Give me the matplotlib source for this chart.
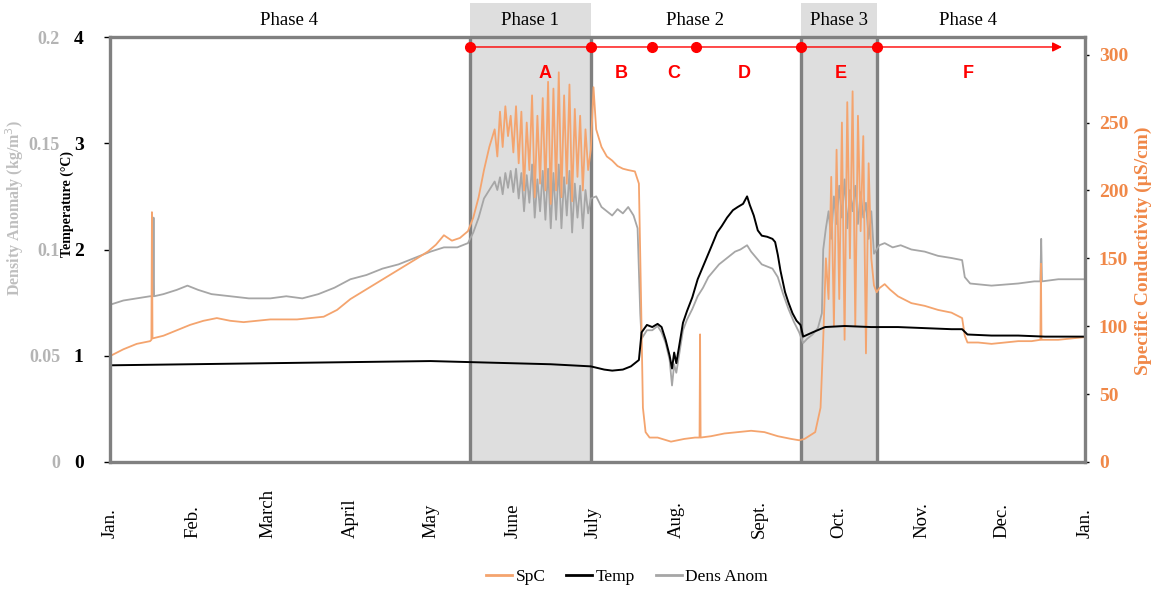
import matplotlib.pyplot as plt
import matplotlib.transforms as mtransforms
from matplotlib.patches import Rectangle
from matplotlib.lines import Line2D

plt.rcParams['font.family'] = ['Liberation Serif', 'DejaVu Serif']

# --- data (day of year) ---
month_days = [0, 31, 59, 90, 120, 151, 181, 212, 243, 273, 304, 334, 365]
month_labels = ['Jan.', 'Feb.', 'March', 'April', 'May', 'June', 'July',
                'Aug.', 'Sept.', 'Oct.', 'Nov.', 'Dec.', 'Jan.']

spc_day = [0, 5, 10, 15, 15.5, 15.7, 15.9, 20, 25, 30, 35, 40, 45, 50, 55, 60, 65, 70, 75,
           80, 85, 90, 95, 100, 105, 110, 115, 119, 122, 125, 128, 131, 134,
           136, 138, 140, 142, 144, 145, 146, 147, 148, 149, 150, 151, 152, 153, 154,
           155, 156, 157, 158, 159, 160, 161, 162, 163, 164, 165, 166, 167, 168, 169,
           170, 171, 172, 173, 174, 175, 176, 177, 178, 179, 180,
           181, 182, 184, 186, 188, 190, 192, 194, 196.5, 198, 198.8, 199.5, 200.5, 202,
           205, 210, 215, 219, 220.7, 220.9, 221.1, 225, 230, 235, 240, 245, 250, 255, 258,
           260, 264, 266, 267, 268, 269, 270, 271, 272, 273, 274, 275, 276, 277, 278, 279,
           280, 281, 282, 283, 284, 285, 286, 287,
           288, 290, 292, 295, 300, 305, 310, 315, 319, 320, 321, 325, 330, 335, 340, 345,
           348.3, 348.5, 348.7, 355, 360, 365]
spc_val = [78, 83, 87, 89, 90, 184, 91, 93, 97, 101, 104, 106, 104, 103, 104, 105, 105, 105, 106,
           107, 112, 120, 126, 132, 138, 144, 150, 155, 160, 167, 163, 165, 170,
           180, 195, 215, 232, 245, 225, 258, 232, 262, 240, 255, 228, 262, 220, 258,
           200, 250, 215, 270, 195, 255, 205, 268, 200, 280, 190, 275, 200, 287, 195,
           270, 205, 278, 192, 260, 210, 255, 200, 245, 215, 230,
           276, 245, 232, 225, 222, 218, 216, 215, 214, 205, 120, 40, 22, 18,
           18, 15, 17, 18, 18, 94, 18, 19, 21, 22, 23, 22, 19, 17, 16,
           17, 22, 40, 90, 150, 120, 210, 100, 230, 120, 250, 90, 265, 150, 273, 100,
           255, 170, 240, 80, 220, 150, 130, 125,
           128, 131, 127, 122, 117, 115, 112, 110, 106, 93, 88, 88, 87, 88, 89, 89,
           90, 146, 90, 90, 91, 92]

temp_day = [0, 30, 60, 90, 120, 135, 150, 165, 180, 185, 188, 192, 195, 198, 199, 201, 203,
            205, 206.5, 208, 209.5, 210.4, 211.2, 212, 213, 214.5, 216, 218, 220, 221, 223,
            225, 227.3, 229, 231, 233.2, 235, 237, 238.5, 239.5, 241, 242.5, 244, 246, 248,
            249, 250, 251, 252.7, 254, 255.5, 257, 258.5, 259.5, 263, 267.7, 275, 285, 295,
            305, 315, 319, 321, 330, 340, 350, 365]
temp_val = [0.91, 0.92, 0.93, 0.94, 0.95, 0.94, 0.93, 0.92, 0.90, 0.87, 0.86, 0.87, 0.90, 0.96,
            1.22, 1.29, 1.27, 1.30, 1.27, 1.15, 1.00, 0.88, 1.03, 0.93, 1.08, 1.31, 1.42, 1.55,
            1.72, 1.78, 1.90, 2.02, 2.16, 2.22, 2.30, 2.37, 2.40, 2.43, 2.50, 2.42, 2.32, 2.18,
            2.13, 2.12, 2.10, 2.07, 1.95, 1.80, 1.60, 1.50, 1.40, 1.33, 1.29, 1.18, 1.22, 1.27,
            1.28, 1.27, 1.27, 1.26, 1.25, 1.25, 1.20, 1.19, 1.19, 1.18, 1.18]

dens_day = [0, 5, 10, 15, 16.1, 16.3, 16.5, 20, 25, 29, 33, 38, 45, 52, 60, 66, 72, 78, 84, 90,
            96, 102, 108, 114, 120, 125, 130, 134,
            136, 138, 140, 142, 144, 145, 146, 147, 148, 149, 150, 151, 152, 153, 154, 155,
            156, 157, 158, 159, 160, 161, 162, 163, 164, 165, 166, 167, 168, 169, 170, 171,
            172, 173, 174, 175, 176, 177, 178, 179, 180, 182, 184, 186, 188, 190, 192, 194,
            196, 197.5, 198.5, 199, 201, 203, 205, 206.5, 208, 209.5, 210.4, 211.2, 212, 213,
            214.5, 216, 218, 220, 222, 224, 226, 228, 230, 232, 234, 236, 238.5, 240, 242, 244,
            246, 248, 250, 252, 254, 256, 258, 259.5, 261, 263, 265, 266.5, 267, 268, 269, 270,
            271, 272, 273, 274, 275, 276, 277, 278, 279, 280, 281, 282, 283, 284, 285, 286,
            287, 288, 290, 293, 296, 300, 305, 310, 315, 319, 320, 322, 330, 340, 346,
            348.3, 348.6, 348.9, 355, 360, 365]
dens_val = [0.074, 0.076, 0.077, 0.078, 0.078, 0.115, 0.078, 0.079, 0.081, 0.083, 0.081, 0.079,
            0.078, 0.077, 0.077, 0.078, 0.077, 0.079, 0.082, 0.086, 0.088, 0.091, 0.093, 0.096,
            0.099, 0.101, 0.101, 0.103,
            0.108, 0.115, 0.124, 0.128, 0.132, 0.128, 0.134, 0.126, 0.136, 0.129, 0.137, 0.127,
            0.138, 0.124, 0.136, 0.118, 0.135, 0.122, 0.140, 0.115, 0.133, 0.118, 0.137, 0.114,
            0.138, 0.110, 0.136, 0.114, 0.140, 0.110, 0.134, 0.116, 0.137, 0.108, 0.131, 0.115,
            0.130, 0.110, 0.128, 0.117, 0.124, 0.125, 0.120, 0.118, 0.116, 0.119, 0.117, 0.120,
            0.116, 0.110, 0.070, 0.058, 0.062, 0.062, 0.064, 0.061, 0.056, 0.048, 0.036, 0.046,
            0.042, 0.050, 0.062, 0.067, 0.072, 0.078, 0.082, 0.087, 0.090, 0.093, 0.095, 0.097,
            0.099, 0.100, 0.102, 0.099, 0.096, 0.093, 0.092, 0.091, 0.087, 0.079, 0.072, 0.066,
            0.061, 0.056, 0.058, 0.060, 0.063, 0.070, 0.100, 0.110, 0.118, 0.105, 0.125, 0.112,
            0.130, 0.115, 0.133, 0.110, 0.128, 0.118, 0.130, 0.112, 0.127, 0.115, 0.122, 0.105,
            0.118, 0.098, 0.100, 0.102, 0.103, 0.101, 0.102, 0.100, 0.099, 0.097, 0.096, 0.095,
            0.087, 0.084, 0.083, 0.084, 0.085, 0.085, 0.105, 0.085, 0.086, 0.086, 0.086]

# phase bands and event markers
shaded_phases = [(134.8, 180.1), (258.7, 287.1)]
phase_lines = [134.8, 180.1, 258.7, 287.1]
phase_names = ['Phase 4', 'Phase 1', 'Phase 2', 'Phase 3', 'Phase 4']
phase_name_days = [67.0, 157.2, 219.0, 272.9, 321.2]
event_days = [134.8, 180.1, 202.9, 219.4, 258.7, 287.1]
arrow_end = 356.4
event_letters = ['A', 'B', 'C', 'D', 'E', 'F']
letter_days = [162.8, 191.3, 211.1, 237.3, 273.7, 321.2]

SPC_COLOR = '#F4A46E'
SPC_TEXT = '#F08848'
DENS_COLOR = '#A6A6A6'
DENS_TEXT = '#B4B4B4'
FRAME = '#808080'

fig = plt.figure(figsize=(11.63, 5.90), dpi=100)
ax = fig.add_axes([110 / 1163, 128 / 590, 975 / 1163, 425 / 590])
ax.set_xlim(0, 365)
ax.set_ylim(0, 4)

# shaded phases reaching above the frame
blend = mtransforms.blended_transform_factory(ax.transData, ax.transAxes)
for x0, x1 in shaded_phases:
    ax.add_patch(Rectangle((x0, 0), x1 - x0, 1.08, transform=blend,
                           facecolor='#DEDEDE', edgecolor='none', clip_on=False, zorder=0))
for x in phase_lines:
    ax.axvline(x, color=FRAME, lw=2.4, zorder=1)
for name, d in zip(phase_names, phase_name_days):
    ax.text(d, 1.038, name, transform=blend, ha='center', va='center', fontsize=13.5)

# timeline of the events
ax.annotate('', xy=(arrow_end, 3.906), xytext=(event_days[0], 3.906),
            arrowprops=dict(arrowstyle='-|>', color='red', lw=1, mutation_scale=14,
                            shrinkA=0, shrinkB=0), zorder=6)
ax.plot(event_days, [3.906] * len(event_days), 'o', color='red', ms=7, zorder=7, clip_on=False)
for lt, d in zip(event_letters, letter_days):
    ax.text(d, 3.66, lt, ha='center', va='center', color='red', fontsize=13,
            fontweight='bold', family='Liberation Sans')

# temperature ticks on the left
ax.set_yticks([0, 1, 2, 3, 4])
ax.set_yticklabels(['0', '1', '2', '3', '4'])
ax.tick_params(axis='y', direction='out', length=4, width=1, pad=15, labelsize=14)
for t in ax.get_yticklabels():
    t.set_fontweight('bold')
ax.set_xticks(month_days)
ax.set_xticklabels(month_labels, rotation=90, va='bottom', fontsize=13.5)
ax.tick_params(axis='x', length=0, pad=55)
for s in ax.spines.values():
    s.set_visible(False)

# density anomaly, labels further left
ax_d = ax.twinx()
ax_d.set_ylim(0, 0.2)
ax_d.plot(dens_day, dens_val, color=DENS_COLOR, lw=1.3)
ax_d.yaxis.tick_left()
ax_d.set_yticks([0, 0.05, 0.1, 0.15, 0.2])
ax_d.set_yticklabels(['0', '0.05', '0.1', '0.15', '0.2'])
ax_d.tick_params(axis='y', length=0, pad=36, labelsize=13, labelcolor=DENS_TEXT)
for t in ax_d.get_yticklabels():
    t.set_fontweight('bold')
for s in ax_d.spines.values():
    s.set_visible(False)

# specific conductivity on the right
ax_s = ax.twinx()
ax_s.set_ylim(0, 313)
ax_s.plot(spc_day, spc_val, color=SPC_COLOR, lw=1.3)
ax_s.set_yticks(range(0, 301, 50))
ax_s.tick_params(axis='y', direction='out', length=3, width=1, pad=7, labelsize=14,
                 labelcolor=SPC_TEXT)
for t in ax_s.get_yticklabels():
    t.set_fontweight('bold')
for s in ax_s.spines.values():
    s.set_visible(False)

# temperature drawn on top, with the frame
ax_t = ax.twinx()
ax_t.set_ylim(0, 4)
ax_t.plot(temp_day, temp_val, color='black', lw=1.4)
ax_t.set_yticks([])
ax_t.axhline(0, color='black', lw=1.2)
for s in ax_t.spines.values():
    s.set_color(FRAME)
    s.set_linewidth(2.4)

fig.text(15 / 1163, 1 - 208 / 590, 'Density Anomaly (kg/m$^3$)', rotation=90, ha='center',
         va='center', fontsize=11.5, fontweight='bold', color='#BFBFBF')
fig.text(67 / 1163, 1 - 204 / 590, 'Temperature (°C)', rotation=90, ha='center',
         va='center', fontsize=10, fontweight='bold')
fig.text(1143 / 1163, 1 - 251 / 590, 'Specific Conductivity (µS/cm)', rotation=90,
         ha='center', va='center', fontsize=14, fontweight='bold', color=SPC_TEXT)

handles = [Line2D([], [], color=SPC_COLOR, lw=2), Line2D([], [], color='black', lw=2),
           Line2D([], [], color=DENS_COLOR, lw=2)]
fig.legend(handles, ['SpC', 'Temp', 'Dens Anom'], loc='center', ncol=3, frameon=False,
           bbox_to_anchor=(627 / 1163, 1 - 577 / 590), fontsize=12.5, handlelength=1.5,
           handletextpad=0.2, columnspacing=1.2)

fig.savefig('out.png', dpi=100)
